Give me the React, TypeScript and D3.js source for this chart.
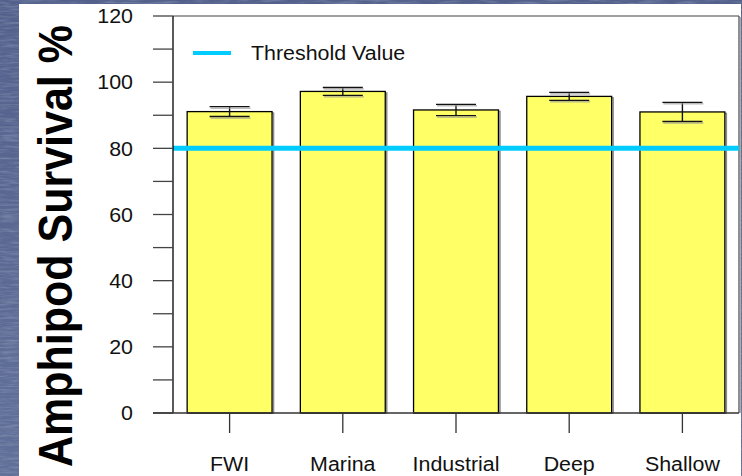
import React from "react";
import * as d3 from "d3";

const categories = ["FWI", "Marina", "Industrial", "Deep", "Shallow"];
const survival = [91.1, 97.2, 91.6, 95.7, 91.0];
const errors = [1.5, 1.2, 1.7, 1.2, 2.9];
const threshold = 80;
const yTicks = [0, 20, 40, 60, 80, 100, 120];
const yMinorTicks = [10, 30, 50, 70, 90, 110];
const yTitle = "Amphipod Survival %";
const legendLabel = "Threshold Value";

const W = 742;
const H = 476;
const plot = { left: 173, right: 739, top: 16, bottom: 413 };
const FONT = "'Liberation Sans', Arial, sans-serif";
const SX = 1.07;

export default function App() {
  const x = d3
    .scaleBand<string>()
    .domain(categories)
    .range([plot.left, plot.right])
    .paddingInner(0.25)
    .paddingOuter(0.125);
  const y = d3.scaleLinear().domain([0, 120]).range([plot.bottom, plot.top]);
  const bw = x.bandwidth();
  const capW = 40;
  const tickLen = 20;

  const stretchText = (tx: number, ty: number, content: string, props: any) => (
    <text
      transform={`translate(${tx},${ty}) scale(${SX},1)`}
      fontFamily={FONT}
      {...props}
    >
      {content}
    </text>
  );

  return (
    <svg
      width={W}
      height={H}
      style={{ position: "absolute", left: 0, top: 0, display: "block" }}
    >
      <defs>
        <linearGradient id="water" x1="0" y1="0" x2="0" y2="1">
          <stop offset="0" stopColor="#52608b" />
          <stop offset="0.5" stopColor="#5a6892" />
          <stop offset="1" stopColor="#617099" />
        </linearGradient>
        <filter id="ripple" x="0" y="0" width="100%" height="100%">
          <feTurbulence type="fractalNoise" baseFrequency="0.05 0.45" numOctaves="3" seed="7" />
          <feColorMatrix
            type="matrix"
            values="0 0 0 0 0.75  0 0 0 0 0.8  0 0 0 0 0.92  0 0 0 1.4 -0.55"
          />
        </filter>
        <filter id="rippleDark" x="0" y="0" width="100%" height="100%">
          <feTurbulence type="fractalNoise" baseFrequency="0.04 0.35" numOctaves="2" seed="11" />
          <feColorMatrix
            type="matrix"
            values="0 0 0 0 0.12  0 0 0 0 0.16  0 0 0 0 0.3  0 0 0 1.4 -0.6"
          />
        </filter>
      </defs>
      <rect x={0} y={0} width={W} height={H} fill="url(#water)" />
      <rect x={0} y={0} width={W} height={H} fill="#000" filter="url(#ripple)" opacity={0.35} />
      <rect x={0} y={0} width={W} height={H} fill="#000" filter="url(#rippleDark)" opacity={0.45} />
      {/* white panel */}
      <rect x={19} y={4} width={722} height={H - 4} fill="#ffffff" />

      {/* plot frame */}
      <line x1={plot.left} x2={plot.right} y1={plot.top} y2={plot.top} stroke="#444" strokeWidth={1.2} />
      <line x1={plot.right} x2={plot.right} y1={plot.top} y2={plot.bottom} stroke="#444" strokeWidth={1.2} />
      <line x1={plot.right + 1.5} x2={plot.right + 1.5} y1={plot.top + 1} y2={plot.bottom} stroke="#aaa" strokeWidth={1.2} />

      {/* bars */}
      {categories.map((c, i) => {
        const bx = x(c)!;
        const by = y(survival[i]);
        return (
          <g key={c}>
            <rect
              x={bx + 1.5}
              y={by + 1.5}
              width={bw}
              height={plot.bottom - by - 1.5}
              fill="none"
              stroke="#8a8a8a"
              strokeWidth={1.5}
            />
            <rect
              x={bx}
              y={by}
              width={bw}
              height={plot.bottom - by}
              fill="#ffff66"
              stroke="#000"
              strokeWidth={1.3}
            />
          </g>
        );
      })}

      {/* error bars */}
      {categories.map((c, i) => {
        const cx = x(c)! + bw / 2;
        const yt = y(survival[i] + errors[i]);
        const yb = y(survival[i] - errors[i]);
        return (
          <g key={"e" + c}>
            <line x1={cx} x2={cx} y1={yt} y2={yb} stroke="#111" strokeWidth={1.4} />
            <line x1={cx - capW / 2} x2={cx + capW / 2} y1={yt} y2={yt} stroke="#111" strokeWidth={1.4} />
            <line x1={cx - capW / 2} x2={cx + capW / 2} y1={yb} y2={yb} stroke="#111" strokeWidth={1.4} />
            <line x1={cx - capW / 2 + 1} x2={cx + capW / 2 + 1} y1={yt + 1.5} y2={yt + 1.5} stroke="#999" strokeWidth={1} />
            <line x1={cx - capW / 2 + 1} x2={cx + capW / 2 + 1} y1={yb + 1.5} y2={yb + 1.5} stroke="#999" strokeWidth={1} />
          </g>
        );
      })}

      {/* threshold line */}
      <line
        x1={plot.left}
        x2={plot.right}
        y1={y(threshold)}
        y2={y(threshold)}
        stroke="#00ccff"
        strokeWidth={5}
      />

      {/* y axis */}
      <line x1={plot.left} x2={plot.left} y1={plot.top} y2={plot.bottom} stroke="#000" strokeWidth={1.3} />
      {yTicks.map((t) => (
        <g key={"yt" + t}>
          <line x1={plot.left - tickLen} x2={plot.left} y1={y(t)} y2={y(t)} stroke="#444" strokeWidth={1.3} />
          {stretchText(133, y(t), String(t), {
            textAnchor: "end",
            dominantBaseline: "central",
            fontSize: 20,
            fill: "#111",
          })}
        </g>
      ))}
      {yMinorTicks.map((t) => (
        <line key={"ym" + t} x1={plot.left - tickLen} x2={plot.left} y1={y(t)} y2={y(t)} stroke="#444" strokeWidth={1.3} />
      ))}

      {/* x axis */}
      <line x1={plot.left - tickLen} x2={plot.right} y1={plot.bottom} y2={plot.bottom} stroke="#333" strokeWidth={1.3} />
      {categories.map((c) => {
        const cx = x(c)! + bw / 2;
        return (
          <g key={"xt" + c}>
            <line x1={cx} x2={cx} y1={plot.bottom} y2={plot.bottom + tickLen} stroke="#333" strokeWidth={1.3} />
            {stretchText(cx, 471, c, { textAnchor: "middle", fontSize: 20, fill: "#111" })}
          </g>
        );
      })}

      {/* legend */}
      <line x1={193} x2={231} y1={53} y2={53} stroke="#00ccff" strokeWidth={4} />
      {stretchText(251, 53, legendLabel, {
        dominantBaseline: "central",
        fontSize: 20,
        fill: "#111",
      })}

      {/* y title */}
      <text
        transform={`translate(72,246) scale(1.1,1) rotate(-90)`}
        textAnchor="middle"
        fontFamily={FONT}
        fontWeight="bold"
        fontSize={43}
        fill="#000"
      >
        {yTitle}
      </text>
    </svg>
  );
}
